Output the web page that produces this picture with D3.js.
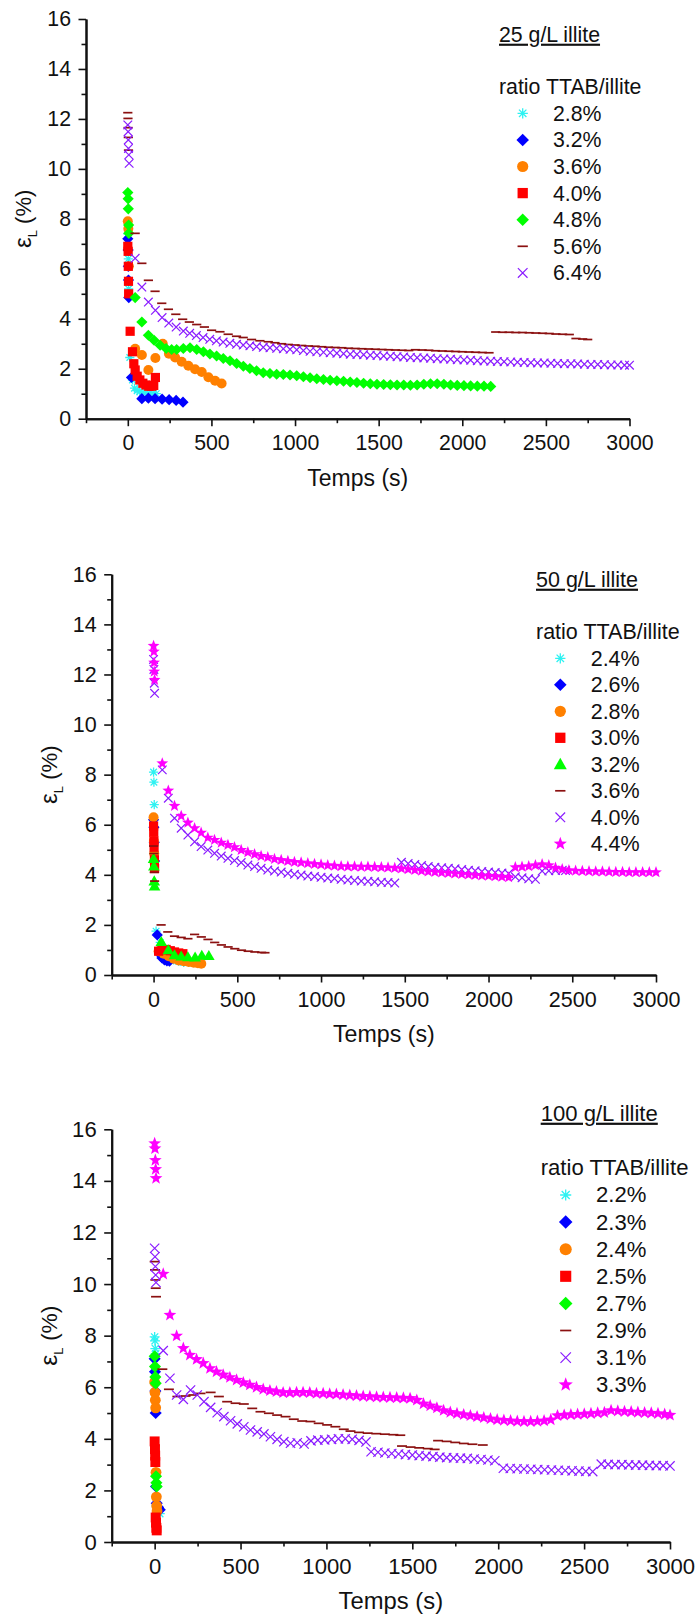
<!DOCTYPE html>
<html><head><meta charset="utf-8">
<script src="https://cdn.jsdelivr.net/npm/d3@7"></script>
<style>
body{margin:0;background:#fff}
svg{display:block}
text{font-family:"Liberation Sans",Arial,Helvetica,sans-serif;fill:#111}
</style>
</head><body>
<svg id="c" width="697" height="1617"></svg>
<script>
// ---------- tick values ----------
const ticksX = [0,500,1000,1500,2000,2500,3000];
const minorX = [-250,250,750,1250,1750,2250,2750];
const ticksY = [0,2,4,6,8,10,12,14,16];
const minorY = [1,3,5,7,9,11,13,15];

// ---------- titles & legends ----------
const titles = ["25 g/L illite","50 g/L illite","100 g/L illite"];
const legendHeader = "ratio TTAB/illite";
const labels25 = ["2.8%","3.2%","3.6%","4.0%","4.8%","5.6%","6.4%"];
const labels50 = ["2.4%","2.6%","2.8%","3.0%","3.2%","3.6%","4.0%","4.4%"];
const labels100 = ["2.2%","2.3%","2.4%","2.5%","2.7%","2.9%","3.1%","3.3%"];

// ---------- 25 g/L data [time s, strain %] ----------
const c25_28 = [[0,7.4],[3,6.4],[5,5.2],[12,2.45],[28,1.55],[40,1.22],[56,1.12],[72,1.08],[90,1.05],[110,1.04],[130,1.02],[150,1.0],[170,1.0]];
const c25_32 = [[0,7.2],[2,6.75],[3,6.1],[4,5.55],[6,4.85],[22,1.65],[84,0.8],[123,0.82],[163,0.8],[205,0.78],[247,0.76],[289,0.73],[330,0.66]];
const c25_36 = [[0,7.9],[3,7.6],[6,6.1],[44,2.8],[84,2.55],[123,1.95],[165,2.43],[209,3.0],[246,2.6],[283,2.45],[322,2.28],[362,2.12],[402,1.98],[442,1.87],[482,1.66],[522,1.52],[561,1.41]];
const c25_40 = [[0,6.9],[2,6.7],[3,6.1],[4,5.5],[5,5.0],[14,3.5],[28,2.68],[36,2.2],[44,1.95],[56,1.7],[72,1.55],[90,1.42],[108,1.35],[125,1.3],[142,1.3],[155,1.33],[165,1.65]];
const c25_48 = [[0,9.05],[2,8.8],[3,8.4],[5,7.75],[6,7.42],[44,4.85],[84,3.87],[123,3.34],[157,3.14],[193,2.94],[229,2.81],[262,2.77],[292,2.77],[332,2.81],[372,2.84],[412,2.77],[452,2.68],[491,2.59],[531,2.51],[571,2.41],[611,2.32],[651,2.21],[691,2.1],[730,2.01],[770,1.92],[810,1.84],[850,1.81],[890,1.78],[930,1.77],[970,1.75],[1010,1.72],[1050,1.68],[1090,1.64],[1130,1.6],[1170,1.57],[1210,1.54],[1250,1.52],[1290,1.5],[1330,1.47],[1370,1.45],[1410,1.42],[1450,1.4],[1490,1.38],[1530,1.37],[1570,1.36],[1610,1.35],[1650,1.35],[1690,1.34],[1730,1.35],[1770,1.38],[1810,1.4],[1850,1.4],[1890,1.38],[1930,1.35],[1970,1.33],[2010,1.32],[2050,1.31],[2090,1.3],[2130,1.3],[2170,1.29]];
const c25_56 = [[0,12.25],[1,12.02],[2,11.65],[3,11.26],[4,10.75],[44,7.42],[84,6.22],[123,5.54],[163,5.1],[203,4.62],[243,4.38],[287,4.18],[328,3.98],[368,3.87],[412,3.77],[458,3.67],[501,3.54],[551,3.48],[600,3.38],[650,3.3],[690,3.25],[740,3.17],[790,3.12],[840,3.08],[880,3.04],[920,3.0],[960,2.97],[1000,2.95],[1040,2.93],[1080,2.91],[1120,2.9],[1160,2.88],[1200,2.86],[1240,2.85],[1280,2.84],[1320,2.82],[1360,2.81],[1400,2.8],[1440,2.79],[1480,2.78],[1520,2.77],[1560,2.76],[1600,2.75],[1640,2.74],[1680,2.73],[1720,2.76],[1760,2.75],[1800,2.74],[1840,2.72],[1880,2.71],[1920,2.7],[1960,2.69],[2000,2.68],[2040,2.67],[2080,2.66],[2120,2.65],[2160,2.64],[2200,3.47],[2240,3.46],[2280,3.46],[2320,3.45],[2360,3.45],[2400,3.44],[2440,3.43],[2480,3.42],[2520,3.41],[2560,3.39],[2600,3.38],[2640,3.37],[2680,3.21],[2720,3.19],[2750,3.17]];
const c25_64 = [[0,11.76],[2,11.49],[3,11.16],[4,10.82],[6,10.56],[8,10.22],[44,6.42],[84,5.27],[123,4.67],[165,4.34],[205,4.05],[245,3.83],[289,3.67],[332,3.51],[370,3.42],[410,3.33],[450,3.25],[490,3.18],[530,3.12],[570,3.07],[610,3.02],[650,2.98],[690,2.95],[730,2.92],[770,2.89],[810,2.86],[850,2.84],[890,2.82],[930,2.8],[970,2.78],[1010,2.76],[1050,2.73],[1090,2.7],[1130,2.68],[1170,2.66],[1210,2.64],[1250,2.62],[1290,2.6],[1330,2.58],[1370,2.57],[1410,2.56],[1450,2.54],[1490,2.53],[1530,2.51],[1570,2.5],[1610,2.48],[1650,2.47],[1690,2.45],[1730,2.44],[1770,2.43],[1810,2.42],[1850,2.4],[1890,2.39],[1930,2.38],[1970,2.36],[2010,2.35],[2050,2.34],[2090,2.32],[2130,2.31],[2170,2.3],[2210,2.29],[2250,2.28],[2290,2.27],[2330,2.26],[2370,2.25],[2410,2.24],[2450,2.23],[2490,2.23],[2530,2.22],[2570,2.21],[2610,2.2],[2650,2.2],[2690,2.19],[2730,2.18],[2770,2.17],[2810,2.17],[2850,2.16],[2890,2.15],[2930,2.15],[2970,2.14],[3000,2.14]];

// ---------- 50 g/L data ----------
const c50_24 = [[0,8.1],[2,7.7],[4,6.8],[15,1.75],[40,1.3],[60,0.9],[90,0.7],[120,0.6],[150,0.55],[180,0.5],[210,0.5]];
const c50_26 = [[0,6.2],[2,5.9],[4,5.3],[6,4.55],[22,1.6],[35,0.85],[50,0.68],[65,0.6],[80,0.56],[95,0.55]];
const c50_28 = [[0,6.3],[2,5.35],[4,4.85],[30,0.95],[60,0.85],[90,0.75],[120,0.65],[150,0.58],[180,0.55],[210,0.52],[240,0.49],[265,0.47],[285,0.45]];
const c50_30 = [[0,5.95],[1,5.7],[2,5.35],[3,5.1],[5,4.6],[6,4.25],[30,0.95],[50,1.0],[75,1.02],[100,0.97],[125,0.92],[150,0.88],[175,0.85]];
const c50_32 = [[0,4.65],[2,4.35],[4,3.75],[6,3.55],[46,1.33],[88,1.0],[125,0.8],[165,0.75],[205,0.72],[248,0.71],[288,0.78],[330,0.77]];
const c50_36 = [[0,5.15],[2,4.85],[4,4.1],[6,3.75],[45,2.0],[85,1.72],[125,1.55],[165,1.5],[205,1.45],[245,1.62],[285,1.52],[325,1.42],[365,1.3],[405,1.2],[445,1.12],[485,1.05],[525,0.99],[565,0.95],[605,0.92],[645,0.9],[665,0.89]];
const c50_40 = [[0,12.6],[2,12.2],[4,11.65],[6,11.25],[52,8.19],[88,7.06],[125,6.26],[165,5.86],[205,5.59],[245,5.32],[284,5.13],[324,4.99],[364,4.86],[404,4.75],[444,4.66],[483,4.57],[523,4.49],[563,4.39],[603,4.33],[642,4.26],[682,4.19],[722,4.15],[762,4.11],[802,4.06],[841,4.02],[881,3.99],[921,3.95],[961,3.93],[1000,3.9],[1040,3.87],[1080,3.85],[1120,3.82],[1160,3.79],[1200,3.77],[1240,3.75],[1280,3.74],[1320,3.72],[1360,3.7],[1400,3.69],[1440,3.67],[1480,4.5],[1520,4.45],[1560,4.41],[1600,4.37],[1640,4.33],[1680,4.3],[1720,4.28],[1760,4.26],[1800,4.24],[1840,4.21],[1880,4.18],[1920,4.16],[1960,4.13],[2000,4.11],[2040,4.09],[2080,4.07],[2120,4.05],[2160,3.92],[2200,3.88],[2240,3.84],[2280,3.82],[2320,4.15],[2360,4.16],[2400,4.17],[2440,4.18],[2460,4.17]];
const c50_44 = [[0,13.14],[2,12.91],[3,12.47],[4,12.11],[6,11.78],[52,8.45],[88,7.36],[125,6.75],[165,6.35],[205,6.08],[245,5.86],[284,5.68],[324,5.48],[364,5.39],[404,5.28],[444,5.19],[483,5.1],[523,4.99],[563,4.9],[603,4.82],[642,4.75],[682,4.7],[722,4.63],[762,4.59],[802,4.55],[841,4.51],[881,4.49],[921,4.46],[961,4.43],[1000,4.41],[1040,4.38],[1080,4.36],[1120,4.34],[1160,4.33],[1200,4.33],[1240,4.32],[1280,4.32],[1320,4.31],[1360,4.3],[1400,4.29],[1440,4.27],[1480,4.25],[1520,4.22],[1560,4.19],[1600,4.16],[1640,4.13],[1680,4.11],[1720,4.09],[1760,4.07],[1800,4.05],[1840,4.03],[1880,4.01],[1920,3.99],[1960,3.97],[2000,3.96],[2040,3.94],[2080,3.92],[2120,3.9],[2160,4.3],[2200,4.32],[2240,4.34],[2280,4.38],[2320,4.42],[2360,4.38],[2400,4.28],[2440,4.22],[2480,4.18],[2520,4.16],[2560,4.15],[2600,4.14],[2640,4.13],[2680,4.13],[2720,4.12],[2760,4.11],[2800,4.11],[2840,4.1],[2880,4.1],[2920,4.1],[2960,4.1],[3000,4.1]];

// ---------- 100 g/L data ----------
const c100_22 = [[0,7.95],[2,7.8],[4,7.5],[6,7.3],[10,1.4],[20,1.25],[30,1.1]];
const c100_23 = [[0,7.1],[2,6.6],[4,5.85],[6,5.0],[8,2.15],[12,1.5],[20,1.35],[30,1.25]];
const c100_24 = [[0,6.2],[2,5.8],[4,5.5],[6,5.2],[8,2.7],[10,1.75],[12,1.4],[14,1.2]];
const c100_25 = [[0,3.9],[2,3.6],[3,3.35],[4,3.1],[6,0.95],[8,0.75],[10,0.55],[12,0.45]];
const c100_27 = [[0,7.2],[2,6.8],[4,6.4],[6,6.15],[8,2.55],[10,2.3],[12,2.15]];
const c100_29 = [[0,10.87],[2,10.55],[4,10.16],[6,9.84],[8,9.51],[45,6.7],[83,5.92],[132,5.64],[180,5.66],[225,5.7],[267,5.76],[326,5.8],[374,5.64],[422,5.44],[471,5.38],[519,5.35],[568,5.18],[616,5.05],[665,4.99],[713,4.92],[762,4.86],[810,4.76],[859,4.69],[907,4.67],[955,4.6],[1004,4.54],[1052,4.47],[1101,4.37],[1140,4.3],[1190,4.25],[1240,4.22],[1290,4.2],[1340,4.18],[1390,4.16],[1430,4.14],[1440,3.72],[1490,3.68],[1540,3.65],[1590,3.62],[1630,3.59],[1650,3.93],[1700,3.9],[1750,3.86],[1800,3.82],[1850,3.79],[1910,3.76]];
const c100_31 = [[0,11.39],[2,11.06],[4,10.68],[6,10.35],[8,10.06],[50,7.42],[89,6.35],[128,5.7],[167,5.53],[209,5.89],[248,5.7],[287,5.44],[326,5.22],[364,5.01],[403,4.86],[442,4.7],[481,4.58],[519,4.47],[558,4.34],[597,4.27],[636,4.19],[674,4.08],[713,3.98],[752,3.89],[791,3.83],[830,3.85],[870,3.8],[910,3.92],[950,3.95],[990,3.96],[1030,3.98],[1070,4.0],[1110,4.0],[1150,3.98],[1190,3.94],[1230,3.88],[1260,3.5],[1300,3.48],[1340,3.45],[1380,3.43],[1420,3.41],[1460,3.39],[1500,3.37],[1540,3.35],[1580,3.33],[1620,3.31],[1660,3.29],[1700,3.27],[1740,3.26],[1780,3.25],[1820,3.24],[1860,3.22],[1900,3.2],[1940,3.18],[1980,3.15],[2030,2.86],[2070,2.85],[2110,2.84],[2150,2.83],[2190,2.82],[2230,2.81],[2270,2.8],[2310,2.79],[2350,2.78],[2390,2.77],[2430,2.76],[2470,2.75],[2510,2.74],[2550,2.73],[2600,3.02],[2640,3.01],[2680,3.0],[2720,3.0],[2760,2.99],[2800,2.98],[2840,2.98],[2880,2.97],[2920,2.96],[2960,2.96],[3000,2.95]];
const c100_33 = [[0,15.45],[2,15.25],[4,14.8],[6,14.45],[8,14.1],[50,10.39],[89,8.8],[128,7.99],[167,7.51],[205,7.25],[244,7.08],[283,6.93],[322,6.73],[360,6.6],[399,6.48],[438,6.38],[477,6.28],[516,6.18],[554,6.09],[593,6.0],[632,5.92],[671,5.87],[709,5.83],[748,5.79],[787,5.79],[826,5.8],[864,5.8],[903,5.79],[942,5.76],[981,5.76],[1019,5.74],[1058,5.73],[1097,5.71],[1136,5.69],[1175,5.67],[1214,5.65],[1253,5.64],[1292,5.62],[1331,5.61],[1370,5.6],[1409,5.59],[1448,5.58],[1487,5.57],[1526,5.5],[1565,5.36],[1604,5.28],[1643,5.2],[1682,5.1],[1721,5.03],[1760,4.98],[1799,4.94],[1838,4.9],[1877,4.86],[1916,4.82],[1955,4.78],[1994,4.74],[2033,4.72],[2072,4.7],[2111,4.68],[2150,4.67],[2189,4.67],[2228,4.68],[2267,4.7],[2306,4.74],[2345,4.9],[2384,4.92],[2423,4.94],[2462,4.95],[2501,4.96],[2540,4.98],[2579,5.0],[2618,5.02],[2657,5.1],[2696,5.08],[2735,5.06],[2774,5.05],[2813,5.03],[2852,5.01],[2891,5.0],[2930,4.98],[2969,4.95],[3000,4.92]];

// ---------- marker styles ----------
const MK = {
  ast:   {shape:"asterisk", color:"#2ef2f2", stroke:true,  s:4.6, w:1.3},
  dia:   {shape:"diamond",  color:"#0000ff", stroke:false, s:5.6},
  circ:  {shape:"circle",   color:"#ff8000", stroke:false, s:5.0},
  sq:    {shape:"square",   color:"#ff0000", stroke:false, s:4.6},
  gdia:  {shape:"diamond",  color:"#00ff00", stroke:false, s:5.6},
  tri:   {shape:"triangle", color:"#00ff00", stroke:false, s:5.8},
  dash:  {shape:"dash",     color:"#8b1010", stroke:true,  s:4.6, w:1.7},
  x:     {shape:"x",        color:"#8a1cff", stroke:true,  s:4.3, w:1.2},
  star:  {shape:"star",     color:"#ff00ff", stroke:false, s:6.2}
};
function symPath(shape, s){
  const k = s*0.72;
  switch(shape){
    case "asterisk": return `M${-s},0H${s}M0,${-s}V${s}M${-k},${-k}L${k},${k}M${-k},${k}L${k},${-k}`;
    case "diamond": return `M0,${-s}L${s},0L0,${s}L${-s},0Z`;
    case "circle": return `M${s},0A${s},${s} 0 1,1 ${-s},0A${s},${s} 0 1,1 ${s},0Z`;
    case "square": return `M${-s},${-s}H${s}V${s}H${-s}Z`;
    case "triangle": return `M0,${-s}L${s*1.0},${s*0.75}L${-s*1.0},${s*0.75}Z`;
    case "dash": return `M${-s},0H${s}`;
    case "x": return `M${-s},${-s}L${s},${s}M${-s},${s}L${s},${-s}`;
    case "star": {
      let d=""; for(let i=0;i<10;i++){const r=i%2?s*0.42:s; const a=-Math.PI/2+i*Math.PI/5; d+=(i?"L":"M")+(r*Math.cos(a)).toFixed(2)+","+(r*Math.sin(a)).toFixed(2);} return d+"Z";
    }
  }
}

// ---------- panel layouts ----------
const panels = [
  {series:[c25_28,c25_32,c25_36,c25_40,c25_48,c25_56,c25_64], marks:["ast","dia","circ","sq","gdia","dash","x"], labels:labels25, title:titles[0],
   left:86, right:629.5, top:19, bottom:418.7, titleX:499, titleY:41.7, headY:94.3, symX:522.7, textX:553, legY0:113.3, legDy:26.6, fs:21.3, ms:1.0},
  {series:[c50_24,c50_26,c50_28,c50_30,c50_32,c50_36,c50_40,c50_44], marks:["ast","dia","circ","sq","tri","dash","x","star"], labels:labels50, title:titles[1],
   left:111.7, right:656, top:574.3, bottom:975, titleX:536, titleY:586.7, headY:639, symX:560.3, textX:590.7, legY0:658.3, legDy:26.5, fs:21.5, ms:1.0},
  {series:[c100_22,c100_23,c100_24,c100_25,c100_27,c100_29,c100_31,c100_33], marks:["ast","dia","circ","sq","gdia","dash","x","star"], labels:labels100, title:titles[2],
   left:111.7, right:670, top:1129.3, bottom:1542, titleX:540.7, titleY:1120.7, headY:1175, symX:565.7, textX:596, legY0:1195, legDy:27.1, fs:22.1, ms:1.08}
];

const svg = d3.select("#c");
svg.append("rect").attr("width",697).attr("height",1617).attr("fill","#fff");

function styleAxis(g, fs){
  g.select(".domain").attr("stroke","#111").attr("stroke-width",2);
  g.selectAll(".tick line").attr("stroke","#111").attr("stroke-width",1.6);
  g.selectAll(".tick text").attr("fill","#111").style("font-size",fs+"px").style("font-family",'"Liberation Sans",Arial,sans-serif');
}

function drawMarker(sel, mk, scale){
  const st = MK[mk];
  const p = sel.append("path").attr("d", symPath(st.shape, st.s*scale));
  if(st.stroke){ p.attr("fill","none").attr("stroke",st.color).attr("stroke-width",st.w).attr("stroke-linecap","butt"); }
  else { p.attr("fill",st.color).attr("stroke","none"); }
  return p;
}

panels.forEach(P => {
  const x = d3.scaleLinear().domain([-250,3000]).range([P.left,P.right]);
  const y = d3.scaleLinear().domain([0,16]).range([P.bottom,P.top]);
  const g = svg.append("g");
  const fs = P.fs;

  // data markers (plot order = legend order)
  P.series.forEach((data, i) => {
    const gs = g.append("g");
    data.forEach(d => {
      const m = gs.append("g").attr("transform",`translate(${x(d[0])},${y(d[1])})`);
      drawMarker(m, P.marks[i], P.ms);
    });
  });

  // axes
  const xa = g.append("g").attr("transform",`translate(0,${P.bottom})`);
  xa.call(d3.axisBottom(x).tickValues(minorX).tickSize(4.5).tickFormat("").tickSizeOuter(0)); styleAxis(xa, fs);
  const xa2 = g.append("g").attr("transform",`translate(0,${P.bottom})`);
  xa2.call(d3.axisBottom(x).tickValues(ticksX).tickSize(7.5).tickPadding(9).tickFormat(d3.format("d")).tickSizeOuter(0)); styleAxis(xa2, fs);
  const ya = g.append("g").attr("transform",`translate(${P.left},0)`);
  ya.call(d3.axisLeft(y).tickValues(minorY).tickSize(4.5).tickFormat("").tickSizeOuter(0)); styleAxis(ya, fs);
  const ya2 = g.append("g").attr("transform",`translate(${P.left},0)`);
  ya2.call(d3.axisLeft(y).tickValues(ticksY).tickSize(7.5).tickPadding(7.5).tickFormat(d3.format("d")).tickSizeOuter(0)); styleAxis(ya2, fs);

  // axis titles
  g.append("text").attr("x",(P.left+P.right)/2).attr("y",P.bottom+67).attr("text-anchor","middle")
    .style("font-size",(fs+1.7)+"px").text("Temps (s)");
  const yl = g.append("text").attr("transform",`translate(${P.left-55},${(P.top+P.bottom)/2}) rotate(-90)`)
    .attr("text-anchor","middle").style("font-size",(fs+0.7)+"px");
  yl.append("tspan").style("font-size",(fs+2.7)+"px").text("ε");
  yl.append("tspan").attr("dy",6).style("font-size","13px").text("L");
  yl.append("tspan").attr("dy",-6).text(" (%)");

  // title and legend
  g.append("text").attr("x",P.titleX).attr("y",P.titleY).style("font-size",fs+"px")
    .attr("text-decoration","underline").text(P.title);
  g.append("text").attr("x",P.titleX).attr("y",P.headY).style("font-size",fs+"px").text(legendHeader);
  P.labels.forEach((lab,i) => {
    const cy = P.legY0 + i*P.legDy;
    const m = g.append("g").attr("transform",`translate(${P.symX},${cy})`);
    drawMarker(m, P.marks[i], 1.12*P.ms);
    g.append("text").attr("x",P.textX).attr("y",cy+7.4).style("font-size",fs+"px").text(lab);
  });
});
</script>
</body></html>
